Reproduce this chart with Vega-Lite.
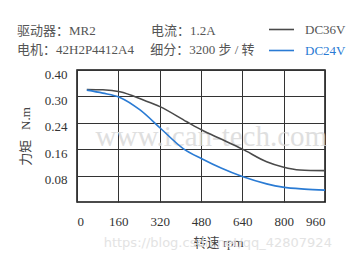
{
  "$schema": "https://vega.github.io/schema/vega-lite/v6.json",
  "width": 248,
  "height": 132,
  "autosize": {"type": "none"},
  "padding": {"left": 77, "top": 70, "right": 28, "bottom": 68},
  "background": "white",
  "config": {
    "font": "Liberation Serif, Noto Sans CJK SC",
    "view": {"stroke": "#111", "strokeWidth": 1.5}
  },
  "title": {
    "text": ["驱动器：MR2\u00a0\u00a0\u00a0\u00a0\u00a0\u00a0\u00a0\u00a0\u00a0\u00a0\u00a0\u00a0\u00a0\u00a0\u00a0\u00a0\u00a0电流：1.2A", "电机：42H2P4412A4\u00a0\u00a0\u00a0\u00a0\u00a0细分：3200 步 / 转"],
    "anchor": "start",
    "frame": "group",
    "dx": -60,
    "dy": 55,
    "offset": 14,
    "fontSize": 13,
    "fontWeight": "normal",
    "color": "#555",
    "lineHeight": 19,
    "font": "Liberation Serif, Noto Sans CJK SC"
  },
  "datasets": {
    "curves": [
      {"rpm": 38, "torque": 0.341, "series": "DC36V"},
      {"rpm": 100, "torque": 0.340, "series": "DC36V"},
      {"rpm": 166, "torque": 0.334, "series": "DC36V"},
      {"rpm": 257, "torque": 0.309, "series": "DC36V"},
      {"rpm": 321, "torque": 0.289, "series": "DC36V"},
      {"rpm": 425, "torque": 0.243, "series": "DC36V"},
      {"rpm": 483, "torque": 0.218, "series": "DC36V"},
      {"rpm": 560, "torque": 0.190, "series": "DC36V"},
      {"rpm": 639, "torque": 0.161, "series": "DC36V"},
      {"rpm": 734, "torque": 0.122, "series": "DC36V"},
      {"rpm": 797, "torque": 0.106, "series": "DC36V"},
      {"rpm": 863, "torque": 0.097, "series": "DC36V"},
      {"rpm": 960, "torque": 0.095, "series": "DC36V"},
      {"rpm": 38, "torque": 0.339, "series": "DC24V"},
      {"rpm": 100, "torque": 0.330, "series": "DC24V"},
      {"rpm": 166, "torque": 0.317, "series": "DC24V"},
      {"rpm": 244, "torque": 0.279, "series": "DC24V"},
      {"rpm": 325, "torque": 0.222, "series": "DC24V"},
      {"rpm": 411, "torque": 0.162, "series": "DC24V"},
      {"rpm": 483, "torque": 0.131, "series": "DC24V"},
      {"rpm": 560, "torque": 0.102, "series": "DC24V"},
      {"rpm": 640, "torque": 0.077, "series": "DC24V"},
      {"rpm": 734, "torque": 0.055, "series": "DC24V"},
      {"rpm": 797, "torque": 0.045, "series": "DC24V"},
      {"rpm": 880, "torque": 0.039, "series": "DC24V"},
      {"rpm": 960, "torque": 0.036, "series": "DC24V"}
    ],
    "marks": [
      {"rpm": 520, "torque": 0.197, "label": "www.ican-tech.com", "kind": "site"},
      {"rpm": 545, "torque": -0.125, "label": "https://blog.csdn.net/qq_42807924", "kind": "blog"}
    ]
  },
  "encoding": {
    "x": {
      "field": "rpm", "type": "quantitative",
      "scale": {"domain": [0, 960], "nice": false},
      "axis": {
        "values": [0, 160, 320, 480, 640, 800, 960],
        "labelOverlap": false,
        "title": "转速 rpm",
        "titleX": 141,
        "titleFontSize": 13,
        "titleFontWeight": "normal",
        "titleColor": "#444",
        "titlePadding": 8,
        "labelFontSize": 13,
        "labelColor": "#333",
        "labelPadding": 13,
        "domain": false,
        "ticks": false,
        "grid": true,
        "gridColor": "#333",
        "gridOpacity": 1,
        "gridWidth": 1
      }
    },
    "y": {
      "field": "torque", "type": "quantitative",
      "scale": {"domain": [0, 0.4], "nice": false},
      "axis": {
        "values": [0.08, 0.16, 0.24, 0.32, 0.4],
        "labelOverlap": false,
        "labelExpr": "datum.value > 0.31 && datum.value < 0.33 ? '0.30' : format(datum.value, '.2f')",
        "title": "力矩\u00a0\u00a0\u00a0N.m",
        "titleFontSize": 13,
        "titleFontWeight": "normal",
        "titleColor": "#444",
        "titlePadding": 12,
        "labelFontSize": 13,
        "labelColor": "#333",
        "labelPadding": 10,
        "labelOffset": 4,
        "domain": false,
        "ticks": false,
        "grid": true,
        "gridColor": "#333",
        "gridOpacity": 1,
        "gridWidth": 1
      }
    }
  },
  "layer": [
    {
      "data": {"name": "marks"},
      "transform": [{"filter": "datum.kind == 'site'"}],
      "mark": {"type": "text", "fontSize": 29, "color": "#d8d8d8", "opacity": 0.8, "clip": false, "font": "Liberation Serif"},
      "encoding": {
        "text": {"field": "label"}
      }
    },
    {
      "data": {"name": "curves"},
      "mark": {"type": "line", "interpolate": "monotone", "strokeWidth": 1.6},
      "encoding": {
        "color": {
          "field": "series", "type": "nominal",
          "scale": {"domain": ["DC36V", "DC24V"], "range": ["#4a4a4a", "#2a7bd4"]},
          "legend": {
            "title": null,
            "orient": "none",
            "legendX": 191,
            "legendY": -54,
            "symbolType": "stroke",
            "symbolSize": 625,
            "symbolStrokeWidth": 1.6,
            "labelFontSize": 13,
            "labelFont": "Liberation Serif",
            "labelOffset": 10,
            "rowPadding": 0,
            "encode": {
              "labels": {"update": {"fill": {"signal": "datum.label == 'DC24V' ? '#2a7bd4' : '#555'"}}}
            }
          }
        }
      }
    },
    {
      "data": {"name": "marks"},
      "transform": [{"filter": "datum.kind == 'blog'"}],
      "mark": {"type": "text", "fontSize": 13, "color": "#e3e3e3", "clip": false, "font": "DejaVu Sans"},
      "encoding": {
        "text": {"field": "label"}
      }
    }
  ]
}
